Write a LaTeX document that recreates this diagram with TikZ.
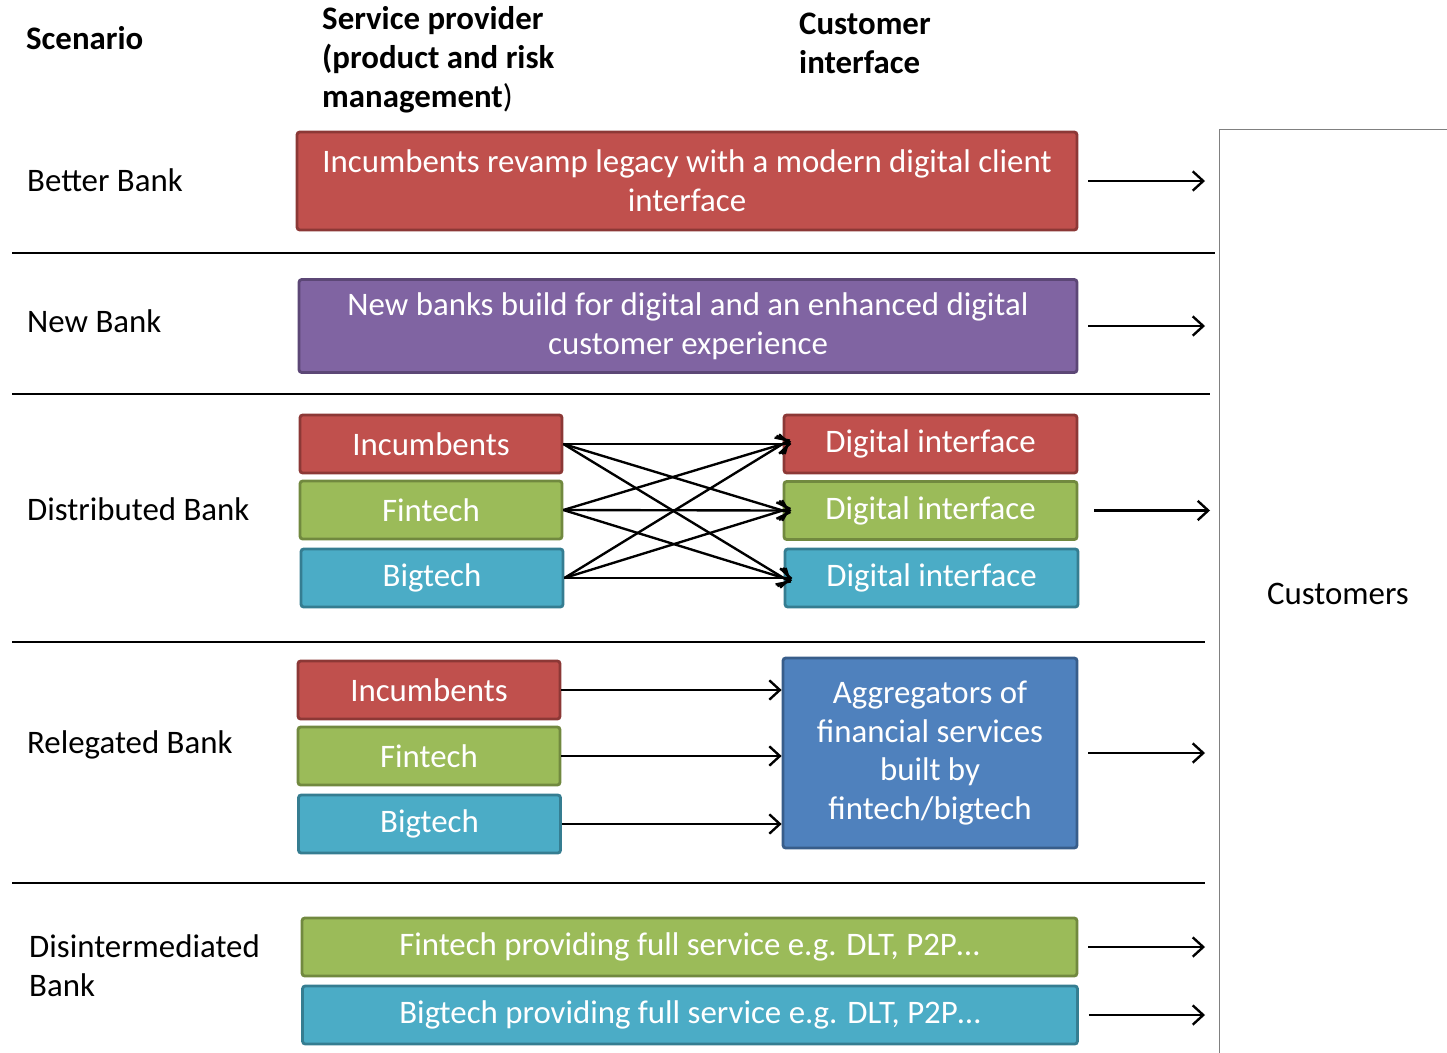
\documentclass[tikz,border=0pt]{standalone}
\usepackage{fontspec}
\setmainfont{Carlito}
\usetikzlibrary{arrows.meta, positioning}

\definecolor{bred}{HTML}{C0504D}
\definecolor{bredd}{HTML}{8C3836}
\definecolor{bpurple}{HTML}{8064A2}
\definecolor{bpurpled}{HTML}{5C4776}
\definecolor{bgreen}{HTML}{9BBB59}
\definecolor{bgreend}{HTML}{71893F}
\definecolor{bteal}{HTML}{4BACC6}
\definecolor{bteald}{HTML}{357D91}
\definecolor{bblue}{HTML}{4F81BD}
\definecolor{bblued}{HTML}{385D8A}

\begin{document}
\begin{tikzpicture}[x=0.02cm, y=-0.02cm,
    every node/.style={font=\fontsize{18.7}{22.1}\selectfont},
    box/.style={draw, line width=1.6pt, rounded corners=1.5pt, text=white, align=center, inner sep=0pt},
    smallbox/.style={box, minimum width=5.24cm, minimum height=1.16cm},
    digibox/.style={box, minimum width=5.86cm, minimum height=1.16cm},
    widebox/.style={box, minimum width=15.5cm, minimum height=1.16cm},
    arr/.style={line width=1.35pt, -{Straight Barb[length=6pt,width=11pt]}},
    outarr/.style={arr, shorten <=0.2cm, shorten >=0.28cm},
    sepline/.style={line width=1.2pt}]
    \useasboundingbox (0,0) rectangle (1447,1052);

    \node[anchor=west] (hscen) at (20,38) {\textbf{Scenario}};
    \node[anchor=west, align=left] (hprov) at (316,60) {\textbf{Service provider}\\\textbf{(product and risk}\\\textbf{management})};
    \node[anchor=west, align=left] (hcust) at (793,43) {\textbf{Customer}\\\textbf{interface}};

    \node[draw=gray, line width=0.8pt, anchor=north west, minimum width=5.4cm, minimum height=19cm] (cust) at (1219,129) {};
    \node (custlabel) at (1338,594) {Customers};

    \node[anchor=west] (sbetter) at (21,180) {Better Bank};
    \node[anchor=west] (snew) at (21,321) {New Bank};
    \node[anchor=west] (sdist) at (21,509) {Distributed Bank};
    \node[anchor=west] (srel) at (21,745) {Relegated Bank};
    \node[anchor=west, align=left] (sdis) at (23,966) {Disintermediated\\Bank};

    \draw[sepline] (12,253) -- (1215,253);
    \draw[sepline] (12,394) -- (1210,394);
    \draw[sepline] (12,642) -- (1205,642);
    \draw[sepline] (12,883) -- (1205,883);

    % better bank
    \node[box, fill=bred, draw=bredd, minimum width=15.6cm, minimum height=1.96cm] (better) at (687,181) {Incumbents revamp legacy with a modern digital client\\interface};
    \draw (better.east) edge[outarr] (better.east -| cust.west);

    % new bank
    \node[box, fill=bpurple, draw=bpurpled, minimum width=15.56cm, minimum height=1.86cm] (new) at (688,326) {New banks build for digital and an enhanced digital\\customer experience};
    \draw (new.east) edge[outarr] (new.east -| cust.west);

    % distributed bank
    \node[smallbox, fill=bred, draw=bredd] (dinc) at (431,444) {Incumbents};
    \node[smallbox, fill=bgreen, draw=bgreend] (dfin) at (431,510) {Fintech};
    \node[smallbox, fill=bteal, draw=bteald] (dbig) at (432,578) {Bigtech};
    \node[digibox, fill=bred, draw=bredd] (dred) at (930.5,444) {Digital interface};
    \node[digibox, fill=bgreen, draw=bgreend] (dgreen) at (930.5,510.5) {Digital interface};
    \node[digibox, fill=bteal, draw=bteald] (dteal) at (931.5,578) {Digital interface};
    \foreach \a in {dinc,dfin,dbig}
        \foreach \b in {dred,dgreen,dteal}
            \draw (\a.east) edge[arr, shorten >=-5pt] (\b.west);
    \draw (dgreen.east) edge[arr, shorten <=0.32cm, shorten >=0.18cm] (dgreen.east -| cust.west);

    % relegated bank
    \node[smallbox, fill=bred, draw=bredd] (rinc) at (429,690) {Incumbents};
    \node[smallbox, fill=bgreen, draw=bgreend] (rfin) at (429,756) {Fintech};
    \node[smallbox, fill=bteal, draw=bteald] (rbig) at (429.5,824) {Bigtech};
    \node[box, fill=bblue, draw=bblued, minimum width=5.88cm, minimum height=3.8cm] (agg) at (930,753) {Aggregators of\\financial services\\built by\\fintech/bigtech};
    \draw
    (rinc.east) edge[arr] (rinc.east -| agg.west)
    (rfin.east) edge[arr] (rfin.east -| agg.west)
    (rbig.east) edge[arr] (rbig.east -| agg.west);
    \draw (agg.east) edge[outarr] (agg.east -| cust.west);

    % disintermediated bank
    \node[widebox, fill=bgreen, draw=bgreend] (xfin) at (689.5,947) {Fintech providing full service e.g. DLT, P2P…};
    \node[widebox, fill=bteal, draw=bteald] (xbig) at (690,1015) {Bigtech providing full service e.g. DLT, P2P…};
    \draw
    (xfin.east) edge[outarr] (xfin.east -| cust.west)
    (xbig.east) edge[outarr] (xbig.east -| cust.west);
\end{tikzpicture}
\end{document}
